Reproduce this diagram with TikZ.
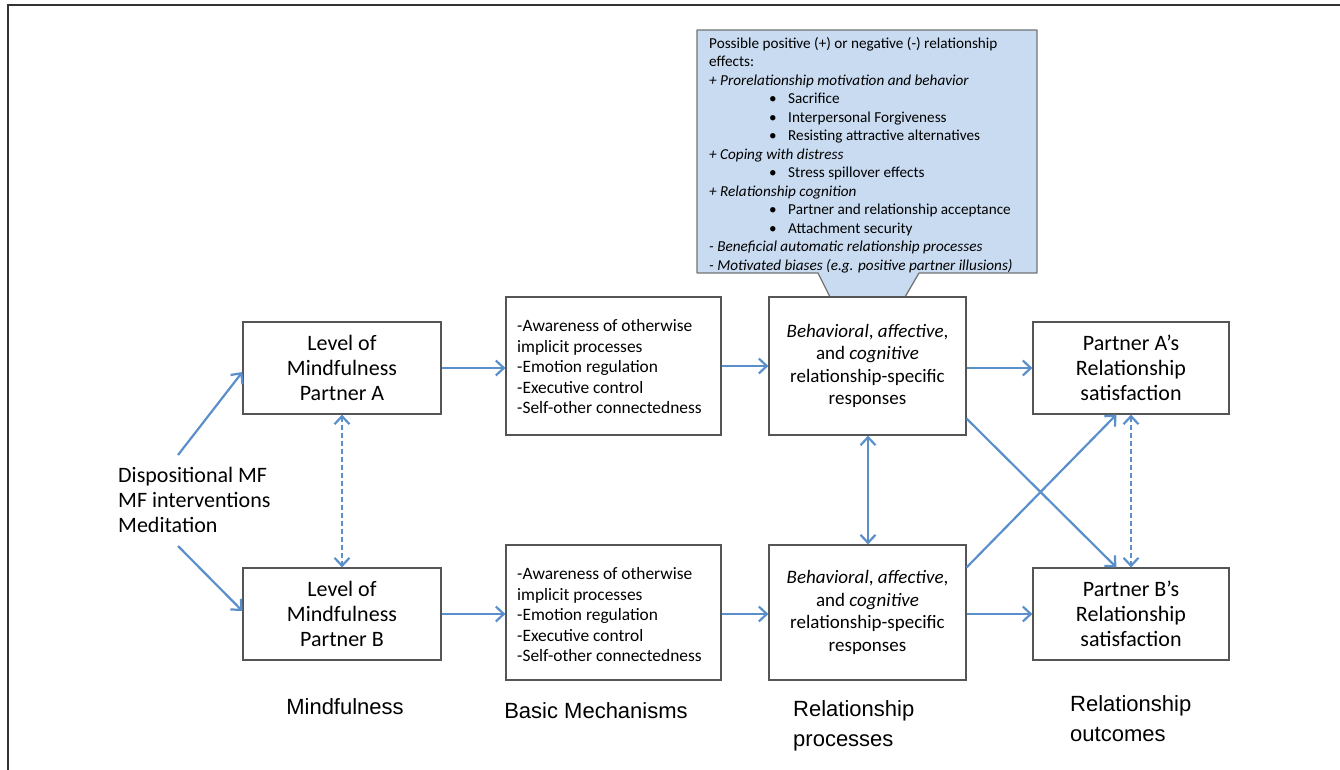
\documentclass[tikz,border=0pt]{standalone}
\usepackage{fontspec}
\setmainfont{Carlito}
\newfontfamily\arialf{Liberation Sans}
\usetikzlibrary{arrows.meta,calc}
\definecolor{arrblue}{HTML}{5B8FCB}
\definecolor{callfill}{HTML}{C9DBF1}
\definecolor{boxgray}{HTML}{555555}
\tikzset{
  tipb/.tip={Straight Barb[length=8pt,width=15pt,line width=2.2pt]},
  box/.style={draw=boxgray, line width=1.2pt, fill=white, inner sep=0pt, align=center},
  conn/.style={draw=arrblue, line width=2.2pt, -tipb},
  dconn/.style={draw=arrblue, line width=2.2pt, dash pattern=on 5pt off 3pt, tipb-tipb},
  bconn/.style={draw=arrblue, line width=2.2pt, tipb-tipb},
  bigtext/.style={font=\fontsize{22}{25}\selectfont},
  mechtext/.style={font=\fontsize{17.4}{20.5}\selectfont, align=left},
  resptext/.style={font=\fontsize{19}{22.6}\selectfont},
  caption/.style={font=\arialf\fontsize{22}{30}\selectfont, align=left, inner sep=0pt},
}
\newcommand{\bul}[1]{\hspace*{60pt}\makebox[19pt][l]{\textbullet}#1}
\begin{document}
\begin{tikzpicture}[x=1pt,y=-1pt]
\useasboundingbox (0,0) rectangle (1340,770);
% frame
\draw[line width=2pt, color=black!80] (8,770) -- (8,5) -- (1340,5);

% callout
\draw[draw=black!55, line width=1.3pt, fill=callfill, line join=round]
  (697,30) -- (1037,30) -- (1037,273) -- (919,273) -- (905,297) -- (830,297) -- (818,273) -- (697,273) -- cycle;
\node[anchor=north west, inner sep=0pt, align=left, font=\fontsize{15.2}{18.5}\selectfont] (call) at (709,37) {%
Possible positive (+) or negative (-) relationship\\
effects:\\
\textit{+ Prorelationship motivation and behavior}\\
\bul{Sacrifice}\\
\bul{Interpersonal Forgiveness}\\
\bul{Resisting attractive alternatives}\\
\textit{+ Coping with distress}\\
\bul{Stress spillover effects}\\
\textit{+ Relationship cognition}\\
\bul{Partner and relationship acceptance}\\
\bul{Attachment security}\\
\textit{- Beneficial automatic relationship processes}\\
\textit{- Motivated biases (e.g. positive partner illusions)}};

% boxes
\node[box, bigtext, minimum width=198pt, minimum height=92pt] (a1) at (342,368) {Level of\\Mindfulness\\Partner A};
\node[box, bigtext, minimum width=198pt, minimum height=92pt] (b1) at (342,614) {Level of\\Mindfulness\\Partner B};
\node[box, minimum width=215pt, minimum height=138pt] (ma) at (613.5,366) {};
\node[mechtext, anchor=west, inner sep=0pt] (mat) at (517,367) {-Awareness of otherwise\\implicit processes\\-Emotion regulation\\-Executive control\\-Self-other connectedness};
\node[box, minimum width=215pt, minimum height=135pt] (mb) at (613.5,612.5) {};
\node[mechtext, anchor=west, inner sep=0pt] (mbt) at (517,615) {-Awareness of otherwise\\implicit processes\\-Emotion regulation\\-Executive control\\-Self-other connectedness};
\node[box, resptext, minimum width=197pt, minimum height=138pt] (ra) at (867.5,366) {\textit{Behavioral}, \textit{affective},\\and \textit{cognitive}\\relationship-specific\\responses};
\node[box, resptext, minimum width=197pt, minimum height=135pt] (rb) at (867.5,612.5) {\textit{Behavioral}, \textit{affective},\\and \textit{cognitive}\\relationship-specific\\responses};
\node[box, bigtext, minimum width=196pt, minimum height=92pt] (oa) at (1131,368) {Partner A's\\Relationship\\satisfaction};
\node[box, bigtext, minimum width=196pt, minimum height=92pt] (ob) at (1131,614) {Partner B's\\Relationship\\satisfaction};

% source text
\node[bigtext, align=left, anchor=west, inner sep=0pt] (disp) at (118,500) {Dispositional MF\\MF interventions\\Meditation};
\coordinate (dtop) at (178,455);
\coordinate (dbot) at (178,546);

% captions
\node[caption, anchor=center] (c1) at (345,707) {Mindfulness};
\node[caption, anchor=center] (c2) at (596,711) {Basic Mechanisms};
\node[caption, anchor=north west] (c3) at (793,700) {Relationship\\processes};
\node[caption, anchor=north west] (c4) at (1070,695) {Relationship\\outcomes};

% connectors
\draw[conn] (dtop) -- ($(a1.west)+(0,4)$);
\draw[conn] (dbot) -- ($(b1.west)+(0,-3)$);
\draw[conn] (a1.east) -- (ma.west |- a1.east);
\draw[conn] (b1.east) -- (mb.west |- b1.east);
\draw[conn] (ma.east) -- (ra.west);
\draw[conn] (mb.east |- b1.east) -- (rb.west |- b1.east);
\draw[conn] (ra.east |- a1.east) -- (oa.west);
\draw[conn] (rb.east |- b1.east) -- (ob.west);
\draw[bconn] ($(ra.south)+(0.5,0)$) -- ($(rb.north)+(0.5,0)$);
\draw[dconn] (a1.south) -- (b1.north);
\draw[dconn] (oa.south) -- (ob.north);
\draw[conn] ($(ra.south east)+(0,-17)$) -- ($(ob.north west)+(84,0)$);
\draw[conn] ($(rb.north east)+(0,23)$) -- ($(oa.south west)+(84,0)$);
\end{tikzpicture}
\end{document}
